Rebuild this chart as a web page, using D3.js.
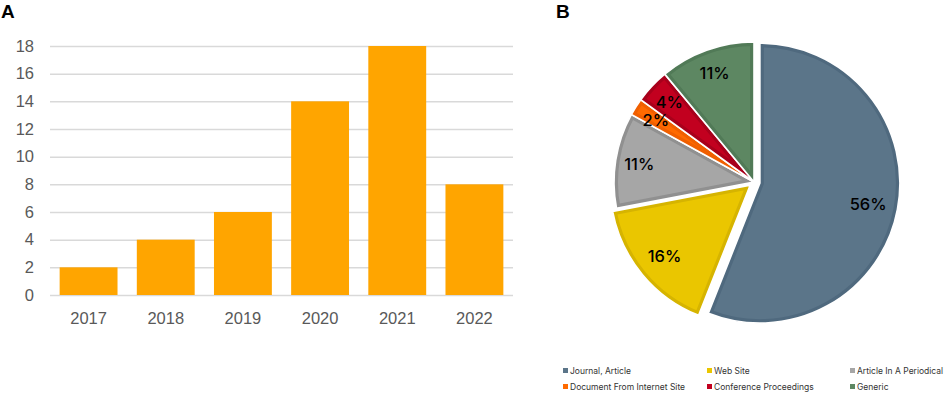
<!DOCTYPE html>
<html>
  <head>
    <title>Publications</title>
    <script src="https://cdn.jsdelivr.net/npm/d3@7"></script>
    <style>
      body { margin: 0; background: #fff; }
    </style>
  </head>
  <body>
    <svg width="948" height="393" id="mainsvg"></svg>
    <script>
      // panel A data
      const years = ['2017', '2018', '2019', '2020', '2021', '2022'];
      const counts = [2, 4, 6, 14, 18, 8];
      const yTicks = [0, 2, 4, 6, 8, 10, 12, 14, 16, 18];

      // panel B data
      const sourceTypes = ['Journal, Article', 'Web Site', 'Article In A Periodical',
                           'Document From Internet Site', 'Conference Proceedings', 'Generic'];
      const sharePct = [56, 16, 11, 2, 4, 11];
      const sliceColors = ['#5b7589', '#eac600', '#a6a6a6', '#ff6a00', '#c2001f', '#5d8762'];
      const sliceBorders = ['#4f697e', '#d6b400', '#909090', '#f05f00', '#a8001b', '#517a57'];

      const svg = d3.select('#mainsvg');

      // ---------- A: bar chart ----------
      const marginA = {top: 46, left: 50, right: 435, bottom: 98};
      const wA = 948 - marginA.left - marginA.right;
      const hA = 393 - marginA.top - marginA.bottom;
      const gA = svg.append('g')
        .attr('transform', `translate(${marginA.left}, ${marginA.top})`);

      const xScale = d3.scaleBand().domain(years).range([0, wA])
        .paddingInner(0.25).paddingOuter(0.125);
      const yScale = d3.scaleLinear().domain([0, 18]).range([hA, 0]);

      const yAxis = d3.axisLeft(yScale).tickValues(yTicks)
        .tickSize(-wA).tickPadding(16);
      const yG = gA.append('g').call(yAxis);
      yG.select('.domain').remove();
      yG.selectAll('.tick line').attr('stroke', '#d9d9d9').attr('stroke-width', 1.5);
      yG.selectAll('.tick text').attr('fill', '#595959')
        .attr('font-family', 'Liberation Sans, Arial, sans-serif').attr('font-size', 16.5);

      gA.selectAll('rect.bar').data(counts).join('rect')
        .attr('class', 'bar')
        .attr('x', (d, i) => xScale(years[i]))
        .attr('y', d => yScale(d))
        .attr('width', xScale.bandwidth())
        .attr('height', d => hA - yScale(d))
        .attr('fill', '#ffa500');

      const xAxis = d3.axisBottom(xScale).tickSize(0).tickPadding(17);
      const xG = gA.append('g').attr('transform', `translate(0, ${hA})`).call(xAxis);
      xG.select('.domain').remove();
      xG.selectAll('.tick text').attr('fill', '#595959')
        .attr('font-family', 'Liberation Sans, Arial, sans-serif').attr('font-size', 16.5);

      svg.append('text').text('A')
        .attr('x', 1).attr('y', 18)
        .attr('font-family', 'Liberation Sans, Arial, sans-serif')
        .attr('font-weight', 'bold').attr('font-size', 19).attr('fill', '#000');

      // ---------- B: pie chart ----------
      svg.append('text').text('B')
        .attr('x', 556).attr('y', 18)
        .attr('font-family', 'Liberation Sans, Arial, sans-serif')
        .attr('font-weight', 'bold').attr('font-size', 19).attr('fill', '#000');

      const cx = 754, cy = 182, radius = 140;
      const explode = [6, 5, 0, 0, 0, 0];
      const pieData = d3.pie().sort(null)(sharePct);
      const arc = d3.arc().innerRadius(0).outerRadius(radius);
      const labelArc = d3.arc().innerRadius(radius * 0.83).outerRadius(radius * 0.83);

      const gB = svg.append('g').attr('transform', `translate(${cx}, ${cy})`);
      const defs = svg.append('defs');
      pieData.forEach((d, i) => {
        defs.append('clipPath').attr('id', 'clip' + i)
          .append('path').attr('d', arc(d));
      });

      const slices = gB.selectAll('g.slice').data(pieData).join('g')
        .attr('class', 'slice')
        .attr('transform', (d, i) => {
          const a = (d.startAngle + d.endAngle) / 2;
          return `translate(${Math.sin(a) * explode[i]}, ${-Math.cos(a) * explode[i]})`;
        });
      slices.append('path')
        .attr('d', arc)
        .attr('fill', (d, i) => sliceColors[i])
        .attr('stroke', (d, i) => sliceBorders[i])
        .attr('stroke-width', 8)
        .attr('clip-path', (d, i) => `url(#clip${i})`);
      slices.append('path')
        .attr('d', arc)
        .attr('fill', 'none')
        .attr('stroke', '#fff')
        .attr('stroke-width', 1.6);

      gB.selectAll('text.pct').data(pieData).join('text')
        .attr('class', 'pct')
        .attr('transform', d => `translate(${labelArc.centroid(d)})`)
        .attr('text-anchor', 'middle')
        .attr('dy', '0.36em')
        .attr('font-family', 'Inter, Liberation Sans, sans-serif')
        .attr('font-size', 16.5)
        .attr('font-weight', 500)
        .attr('fill', '#000')
        .text(d => d.data + '%');

      // legend
      const legendX = [563, 707, 850];
      const legendY = [371, 387];
      const legend = svg.append('g').selectAll('g').data(sourceTypes).join('g')
        .attr('transform', (d, i) => `translate(${legendX[i % 3]}, ${legendY[Math.floor(i / 3)]})`);
      legend.append('rect')
        .attr('x', 0).attr('y', -3).attr('width', 5).attr('height', 5)
        .attr('fill', (d, i) => sliceColors[i]);
      legend.append('text')
        .attr('x', 7).attr('y', 0).attr('dy', '0.35em')
        .attr('font-family', 'Inter, Liberation Sans, sans-serif')
        .attr('font-size', 8.5)
        .attr('fill', '#333')
        .text(d => d);
    </script>
  </body>
</html>
